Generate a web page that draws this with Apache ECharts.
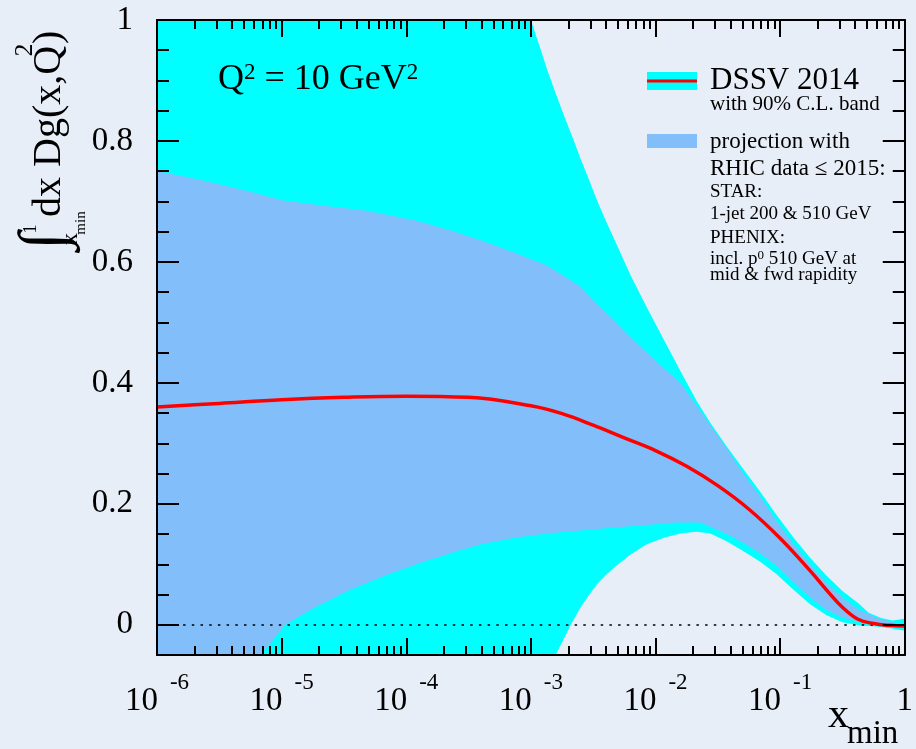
<!DOCTYPE html>
<html><head><meta charset="utf-8">
<script src="https://cdn.jsdelivr.net/npm/echarts@6/dist/echarts.min.js"></script>
<style>html,body{margin:0;padding:0;background:#e8eef8}#c{width:916px;height:749px}</style>
</head><body><div id="c"></div>
<script>
const BG = '#e8eef8', CYAN = '#00ffff', LBLUE = '#82bffa', RED = '#ff0000';
const FONT = "'Liberation Serif', 'Times New Roman', serif";

// DSSV 2014 central curve
const dssvX = [1e-6,3.16e-6,1e-5,3.16e-5,1e-4,3.16e-4,1e-3,1.78e-3,3.16e-3,5.62e-3,1e-2,1.78e-2,3.16e-2,5.62e-2,0.1,0.178,0.237,0.316,0.422,0.562,0.75,1];
const dssvY = [0.360,0.366,0.372,0.376,0.378,0.376,0.362,0.349,0.330,0.309,0.288,0.262,0.230,0.191,0.143,0.087,0.057,0.029,0.009,0.002,-0.001,-0.002];

// 90% C.L. band (cyan), clipped to the visible frame
const clUpX = [1e-6,1e-3,1.17e-3,1.35e-3,1.58e-3,1.86e-3,2.19e-3,2.51e-3,2.95e-3,3.39e-3,3.98e-3,4.68e-3,6.31e-3,8.51e-3,1.17e-2,1.58e-2,2.14e-2,2.75e-2,3.72e-2,5.01e-2,6.92e-2,9.33e-2,0.126,0.174,0.234,0.316,0.427,0.513,0.646,0.794,1];
const clUpY = [1.0,1.0,0.958,0.918,0.879,0.840,0.803,0.770,0.734,0.702,0.669,0.637,0.578,0.525,0.471,0.420,0.370,0.334,0.295,0.259,0.220,0.182,0.146,0.111,0.082,0.056,0.035,0.020,0.011,0.007,0.010];
const clLoX = [1e-6,1.58e-3,1.82e-3,2.09e-3,2.51e-3,2.95e-3,3.39e-3,3.98e-3,4.68e-3,6.31e-3,8.51e-3,1.17e-2,1.58e-2,2.14e-2,2.75e-2,3.72e-2,5.01e-2,6.92e-2,9.33e-2,0.126,0.174,0.234,0.316,0.427,0.589,0.794,1];
const clLoY = [-0.05,-0.05,-0.025,0.0,0.029,0.050,0.067,0.082,0.095,0.116,0.133,0.144,0.151,0.154,0.151,0.138,0.1225,0.104,0.084,0.059,0.034,0.016,0.004,-0.001,-0.003,-0.006,-0.010];

// projection with RHIC data (light blue)
const pjUpX = [1e-6,1.78e-6,2.95e-6,5.62e-6,1.02e-5,2.19e-5,4.68e-5,1.17e-4,2.19e-4,3.98e-4,7.41e-4,1.35e-3,2.51e-3,3.39e-3,4.68e-3,6.31e-3,8.51e-3,1.17e-2,1.58e-2,2.14e-2,2.75e-2,3.72e-2,5.01e-2,6.92e-2,9.33e-2,0.126,0.174,0.234,0.316,0.427,0.589,0.794,1];
const pjUpY = [0.750,0.740,0.730,0.716,0.702,0.693,0.685,0.669,0.653,0.636,0.615,0.594,0.559,0.531,0.503,0.476,0.450,0.424,0.400,0.362,0.330,0.292,0.251,0.212,0.172,0.135,0.100,0.070,0.045,0.025,0.012,0.004,0.000];
const pjLoX = [1e-6,6.61e-6,8.32e-6,1.07e-5,1.41e-5,1.86e-5,3.55e-5,7.24e-5,1.38e-4,2.63e-4,3.98e-4,7.41e-4,1.35e-3,2.51e-3,4.68e-3,8.51e-3,1.48e-2,2.29e-2,2.75e-2,3.72e-2,5.01e-2,6.92e-2,9.33e-2,0.126,0.174,0.234,0.316,0.427,0.589,1];
const pjLoY = [-0.05,-0.05,-0.028,0.0,0.015,0.029,0.058,0.084,0.104,0.1225,0.133,0.144,0.151,0.156,0.161,0.165,0.169,0.169,0.162,0.150,0.136,0.118,0.098,0.072,0.045,0.025,0.012,0.005,0.000,-0.004];

// axis ticks / labels
const xMajor = [1e-6,1e-5,1e-4,1e-3,1e-2,1e-1,1];
const xMinor = [];
for (let k = -6; k < 0; k++) for (let m = 2; m <= 9; m++) xMinor.push(m * Math.pow(10, k));
const yMajor = [0,0.2,0.4,0.6,0.8,1];
const yMinor = [0.05,0.1,0.15,0.25,0.3,0.35,0.45,0.5,0.55,0.65,0.7,0.75,0.85,0.9,0.95];

function bandItem(upX, upY, loX, loY, color) {
  return function (params, api) {
    const pts = [];
    for (let i = 0; i < upX.length; i++) pts.push(api.coord([upX[i], upY[i]]));
    for (let i = loX.length - 1; i >= 0; i--) pts.push(api.coord([loX[i], loY[i]]));
    return { type: 'polygon', shape: { points: pts }, style: { fill: color } };
  };
}

const blackLine = { color: '#000', width: 2 };
// decade-scale frame axes (exponent space) carrying the ticks of the log axis
function xTickAx(pos, major) {
  return {
    type: 'value', min: -6, max: 0, position: pos, gridIndex: 0, z: 10,
    axisLine: { show: major, onZero: false, lineStyle: blackLine },
    axisTick: { show: true, inside: true, length: major ? 17 : 9,
      customValues: (major ? xMajor : xMinor).map(function (v) { return Math.log10(v); }), lineStyle: blackLine },
    axisLabel: (major && pos === 'bottom') ? {
      show: true, customValues: xMajor.map(function (v) { return Math.log10(v); }), margin: 16, showMinLabel: true, showMaxLabel: true,
      formatter: function (v) { const e = Math.round(v); return e === 0 ? '{b|1}' : '{b|10}{s|' + e + '}'; },
      rich: {
        b: { fontFamily: FONT, fontSize: 33, color: '#000', padding: [14, 0, 0, 0], verticalAlign: 'bottom' },
        s: { fontFamily: FONT, fontSize: 23, color: '#000', verticalAlign: 'top', padding: [0, 0, 0, 12] }
      }
    } : { show: false },
    splitLine: { show: false }, minorTick: { show: false }
  };
}
function yAx(pos, major) {
  return {
    type: 'value', min: -0.05, max: 1, position: pos, gridIndex: 0, z: 10,
    axisLine: { show: major, onZero: false, lineStyle: blackLine },
    axisTick: { show: true, inside: true, length: major ? 22 : 12, customValues: major ? yMajor : yMinor, lineStyle: blackLine },
    axisLabel: (major && pos === 'left') ? {
      show: true, customValues: yMajor, margin: 24, fontFamily: FONT, fontSize: 33, color: '#000',
      formatter: function (v) { return (v === 0 || v === 1) ? String(v) : v.toFixed(1); }
    } : { show: false },
    splitLine: { show: false }
  };
}

function txt(x, y, text, size, opt) {
  opt = opt || {};
  const el = { type: 'text', x: x, y: y, z: 100, silent: true,
    style: { text: text, fill: '#000', font: size + 'px ' + FONT, align: opt.align || 'left', verticalAlign: 'middle' } };
  if (opt.rich) el.style.rich = opt.rich;
  if (opt.rotation !== undefined) el.rotation = opt.rotation;
  return el;
}
function rs(size, extra) { return Object.assign({ fontFamily: FONT, fontSize: size, fill: '#000', color: '#000' }, extra || {}); }
const ROT = Math.PI / 2;

const chart = echarts.init(document.getElementById('c'), null, { renderer: 'canvas' });
chart.setOption({
  backgroundColor: BG,
  animation: false,
  grid: { left: 157, top: 20, width: 752, height: 635, show: false },
  xAxis: [
    { type: 'log', logBase: 10, min: 1e-6, max: 1, position: 'bottom', gridIndex: 0,
      axisLine: { show: false, onZero: false }, axisTick: { show: false }, axisLabel: { show: false }, splitLine: { show: false } },
    xTickAx('bottom', true), xTickAx('bottom', false), xTickAx('top', true), xTickAx('top', false)
  ],
  yAxis: [yAx('left', true), yAx('left', false), yAx('right', true), yAx('right', false)],
  series: [
    { type: 'custom', name: '90% C.L.', coordinateSystem: 'cartesian2d', xAxisIndex: 0, yAxisIndex: 0, clip: true, silent: true, z: 1,
      data: [[1e-3, 0.5]], renderItem: bandItem(clUpX, clUpY, clLoX, clLoY, CYAN) },
    { type: 'custom', name: 'projection', coordinateSystem: 'cartesian2d', xAxisIndex: 0, yAxisIndex: 0, clip: true, silent: true, z: 2,
      data: [[1e-3, 0.5]], renderItem: bandItem(pjUpX, pjUpY, pjLoX, pjLoY, LBLUE) },
    { type: 'line', name: 'DSSV 2014', xAxisIndex: 0, yAxisIndex: 0, z: 5, silent: true,
      data: dssvX.map(function (x, i) { return [x, dssvY[i]]; }),
      smooth: 0.4, symbol: 'none', lineStyle: { color: RED, width: 3.5 },
      markLine: { silent: true, symbol: ['none', 'none'], label: { show: false }, z: 4,
        lineStyle: { color: '#000', width: 1.5, type: [2.5, 6.2] }, data: [{ yAxis: 0 }] } }
  ],
  graphic: [
    { type: 'rect', z: 100, shape: { x: 647, y: 72, width: 50, height: 18 }, style: { fill: CYAN } },
    { type: 'line', z: 101, shape: { x1: 647, y1: 81, x2: 697, y2: 81 }, style: { stroke: RED, lineWidth: 3 } },
    { type: 'rect', z: 100, shape: { x: 647, y: 134, width: 50, height: 14 }, style: { fill: LBLUE } },
    txt(710, 81, 'DSSV 2014', 31),
    txt(710, 104.5, 'with 90% C.L. band', 21),
    txt(710, 141.5, 'projection with', 23),
    txt(710, 168.5, 'RHIC data \u2264 2015:', 23),
    txt(710, 192.5, 'STAR:', 19),
    txt(710, 214, '1-jet 200 & 510 GeV', 19),
    txt(710, 238.5, 'PHENIX:', 19),
    txt(710, 259, '{a|incl. p}{s|0}{a| 510 GeV at}', 19, { rich: { a: rs(19), s: rs(13, { verticalAlign: 'top' }) } }),
    txt(710, 275.5, 'mid & fwd rapidity', 19),
    txt(218, 79.5, '{a|Q}{s|2}{a| = 10 GeV}{s|2}', 36, { rich: { a: rs(36), s: rs(23, { verticalAlign: 'top' }) } }),
    txt(828, 716, 'x', 42),
    txt(847, 734, 'min', 33),
    // y axis title (rotated, reading upwards)
    txt(49.5, 217, 'dx Dg(x,Q', 40, { rotation: ROT }),
    txt(25, 50, '2', 26, { rotation: ROT, align: 'center' }),
    txt(49.5, 44, ')', 40, { rotation: ROT }),
    txt(46, 241, '\u222B', 64, { rotation: ROT, align: 'center' }),
    txt(31, 229, '1', 18, { rotation: ROT, align: 'center' }),
    txt(71, 239, 'x', 24, { rotation: ROT, align: 'center' }),
    txt(81.5, 223, 'min', 15, { rotation: ROT, align: 'center' })
  ]
});
</script>
</body></html>
